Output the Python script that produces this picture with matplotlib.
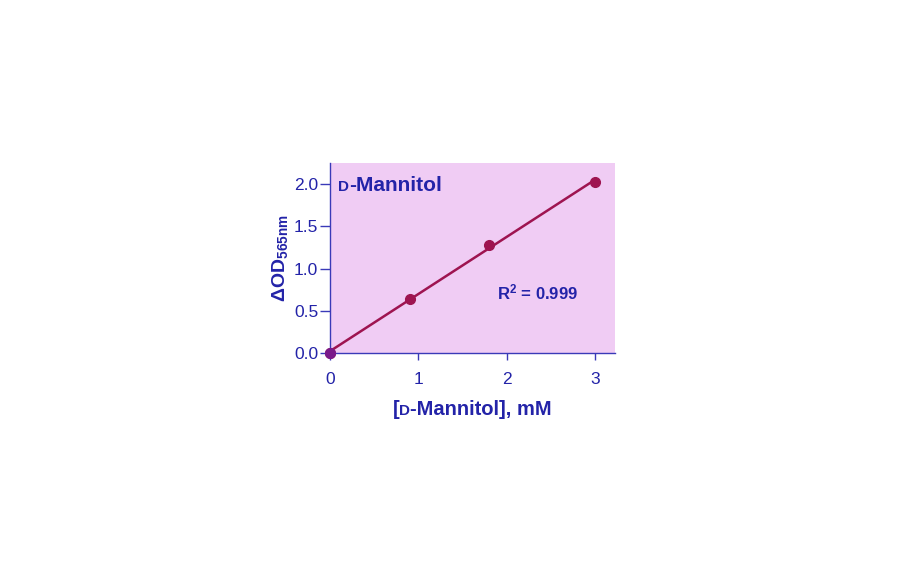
import matplotlib
matplotlib.use("Agg")
import matplotlib.pyplot as plt
import numpy as np
from matplotlib.offsetbox import TextArea, HPacker, AnchoredOffsetbox

plt.rcParams['font.family'] = ['Liberation Sans', 'DejaVu Sans']
plt.rcParams['mathtext.fontset'] = 'custom'
plt.rcParams['mathtext.rm'] = 'Liberation Sans:bold'
plt.rcParams['mathtext.bf'] = 'Liberation Sans:bold'
plt.rcParams['mathtext.it'] = 'Liberation Sans:bold'

conc = [0, 0.9, 1.8, 3.0]
od = [0.0, 0.64, 1.28, 2.03]
xticks = [0, 1, 2, 3]
yticks = [0.0, 0.5, 1.0, 1.5, 2.0]
ytick_labels = ["0.0", "0.5", "1.0", "1.5", "2.0"]

blue = "#2323A8"
spine_blue = "#3A3AB8"
maroon = "#9E1450"
bg = "#F0CCF4"

fig = plt.figure(figsize=(9.12, 5.62), dpi=100)
ax = fig.add_axes([0.3618, 0.3719, 0.3125, 0.338])
ax.set_facecolor(bg)

slope, intercept = np.polyfit(conc, od, 1)
xf = np.array([0, 3.0])
ax.plot(xf, slope * xf + intercept, color=maroon, lw=1.8, zorder=3, clip_on=False)
ax.plot(conc, od, 'o', color=maroon, ms=7, zorder=4, clip_on=False)
ax.plot([0], [0], 'o', color="#7A1A8A", ms=7, zorder=5, clip_on=False)

ax.set_xlim(0, 3.22)
ax.set_ylim(0, 2.25)
ax.set_xticks(xticks)
ax.set_xticklabels([str(v) for v in xticks])
ax.set_yticks(yticks)
ax.set_yticklabels(ytick_labels)
for s in ['top', 'right']:
    ax.spines[s].set_visible(False)
for s in ['left', 'bottom']:
    ax.spines[s].set_color(spine_blue)
    ax.spines[s].set_linewidth(1.0)
ax.tick_params(axis='x', direction='out', length=5, width=1.0, color=spine_blue,
               labelcolor=blue, labelsize=12.5, pad=9)
ax.tick_params(axis='y', direction='out', length=7, width=1.0, color=spine_blue,
               labelcolor=blue, labelsize=12.5, pad=1.5)

# y label
ax.set_ylabel(r"ΔOD$_{565nm}$", color=blue, fontsize=14, fontweight='bold', labelpad=3)

# labels with small-caps D
def small_caps_box(parts):
    areas = [TextArea(t, textprops=dict(color=blue, fontsize=fs, fontweight='bold')) for t, fs in parts]
    return HPacker(children=areas, align="baseline", pad=0, sep=0)

xl = small_caps_box([("[", 14.5), ("D", 11), ("-Mannitol], mM", 14.5)])
ab = AnchoredOffsetbox(loc='upper center', child=xl, frameon=False,
                       bbox_to_anchor=(0.5, -0.245), bbox_transform=ax.transAxes, pad=0, borderpad=0)
ax.add_artist(ab)

tl = small_caps_box([("D", 11), ("-Mannitol", 15)])
ab2 = AnchoredOffsetbox(loc='upper left', child=tl, frameon=False,
                        bbox_to_anchor=(0.028, 0.93), bbox_transform=ax.transAxes, pad=0, borderpad=0)
ax.add_artist(ab2)

ax.text(1.89, 0.72, r"R$^{2}$ = 0.999", color=blue, fontsize=12, fontweight='bold',
        ha='left', va='center')

fig.savefig("out.png", dpi=100, facecolor='white')
